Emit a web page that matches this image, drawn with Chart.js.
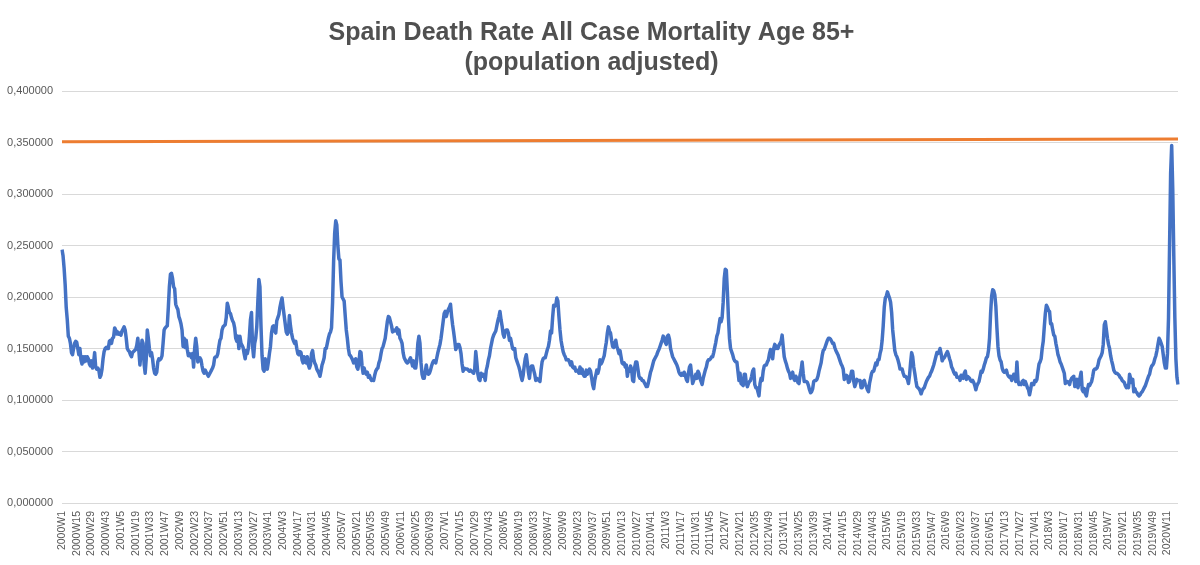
<!DOCTYPE html>
<html>
<head>
<meta charset="utf-8">
<title>Spain Death Rate All Case Mortality Age 85+</title>
<script src="https://cdn.jsdelivr.net/npm/chart.js@4.4.1/dist/chart.umd.min.js"></script>
<style>
  html, body { margin: 0; padding: 0; background: #ffffff; }
  #wrap { width: 1200px; height: 565px; }
</style>
</head>
<body>
<div id="wrap"><canvas id="mortalityChart" width="1200" height="565"></canvas></div>
<script>
/* ==========================================
   DATA  (weekly death rate, age 85+)
========================================== */

const firstYear = 2000;
const labelEvery = 14;

const rate2000 = [.246,.240,.228,.212,.190,.178,.162,.160,.155,.146,.144,.150,.155,.157,.156,.150,.144,.150,.139,.135,.142,.137,.142,.138,.142,.140,.135,.133,.138,.131,.136,.146,.132,.130,.131,.129,.122,.124,.130,.140,.147,.150,.151,.150,.150,.157,.158,.155,.160,.161,.170,.168];
const rate2001 = [.164,.166,.164,.165,.163,.167,.169,.171,.168,.160,.150,.148,.147,.144,.142,.146,.147,.148,.149,.153,.160,.148,.134,.145,.158,.155,.135,.126,.140,.168,.160,.150,.143,.146,.140,.131,.126,.125,.127,.137,.140,.139,.140,.143,.155,.168,.170,.171,.172,.190,.210,.222];
const rate2002 = [.223,.218,.210,.208,.193,.190,.188,.181,.178,.174,.168,.152,.160,.151,.158,.149,.143,.145,.143,.141,.145,.132,.150,.160,.152,.137,.140,.141,.139,.133,.128,.126,.129,.127,.125,.123,.125,.127,.129,.131,.134,.141,.142,.142,.145,.152,.158,.160,.168,.171,.172,.173];
const rate2003 = [.180,.194,.190,.185,.184,.180,.177,.175,.170,.160,.157,.162,.150,.162,.155,.153,.151,.145,.140,.148,.145,.150,.162,.178,.185,.152,.142,.155,.160,.171,.195,.217,.210,.172,.143,.130,.128,.140,.133,.130,.137,.145,.152,.165,.171,.172,.167,.165,.177,.180,.183,.190];
const rate2004 = [.195,.199,.190,.182,.174,.166,.164,.166,.182,.172,.165,.160,.157,.155,.157,.150,.145,.144,.147,.146,.139,.136,.142,.138,.136,.142,.134,.131,.134,.145,.148,.140,.136,.134,.130,.128,.126,.123,.128,.134,.137,.141,.150,.150,.155,.160,.164,.166,.170,.195,.235,.262];
const rate2005 = [.274,.270,.250,.237,.236,.215,.200,.198,.196,.182,.168,.160,.150,.144,.143,.141,.139,.136,.138,.140,.132,.130,.136,.147,.146,.133,.126,.131,.127,.125,.127,.122,.124,.121,.119,.120,.119,.124,.128,.130,.131,.136,.139,.145,.150,.152,.156,.160,.168,.176,.181,.180];
const rate2006 = [.176,.172,.166,.168,.167,.168,.170,.164,.168,.160,.158,.155,.146,.141,.139,.137,.136,.137,.139,.141,.137,.133,.138,.131,.131,.140,.155,.162,.155,.136,.125,.121,.121,.127,.134,.127,.125,.126,.129,.133,.136,.138,.138,.136,.141,.146,.150,.154,.160,.168,.176,.184];
const rate2007 = [.186,.181,.185,.188,.190,.193,.182,.173,.166,.158,.149,.151,.154,.154,.151,.145,.135,.128,.131,.130,.130,.130,.129,.128,.129,.128,.127,.126,.130,.147,.137,.125,.120,.119,.126,.123,.125,.124,.119,.129,.133,.139,.143,.150,.155,.160,.163,.165,.167,.172,.177,.181];
const rate2008 = [.186,.178,.172,.164,.161,.167,.168,.168,.165,.158,.160,.155,.150,.149,.150,.141,.138,.135,.132,.128,.123,.119,.124,.133,.140,.144,.136,.127,.121,.131,.133,.133,.129,.125,.119,.121,.120,.119,.118,.129,.137,.140,.141,.141,.145,.149,.152,.158,.167,.165,.180,.192];
const rate2009 = [.191,.192,.199,.196,.181,.168,.158,.152,.147,.144,.142,.139,.139,.139,.137,.134,.137,.132,.131,.132,.128,.129,.128,.126,.132,.126,.130,.125,.123,.123,.129,.125,.128,.130,.128,.122,.115,.111,.119,.124,.129,.126,.130,.139,.135,.137,.140,.143,.150,.156,.165,.171];
const rate2010 = [.167,.165,.158,.152,.151,.155,.158,.152,.149,.145,.148,.142,.136,.135,.136,.132,.134,.123,.130,.128,.133,.130,.119,.118,.132,.137,.137,.130,.123,.121,.121,.119,.119,.117,.115,.113,.113,.117,.122,.127,.130,.134,.138,.140,.142,.144,.147,.149,.152,.155,.158,.162];
const rate2011 = [.160,.156,.154,.162,.163,.159,.150,.146,.142,.140,.138,.136,.134,.131,.127,.125,.124,.126,.124,.127,.124,.120,.118,.126,.132,.134,.125,.116,.119,.122,.125,.121,.128,.126,.121,.118,.115,.121,.125,.129,.132,.137,.139,.139,.140,.142,.142,.146,.151,.156,.162,.165];
const rate2012 = [.172,.179,.176,.180,.195,.218,.227,.226,.205,.180,.160,.150,.147,.144,.140,.138,.137,.137,.128,.119,.126,.116,.115,.114,.125,.125,.116,.113,.116,.118,.119,.123,.128,.130,.115,.112,.112,.108,.104,.116,.121,.119,.128,.133,.134,.134,.137,.139,.145,.149,.145,.140];
const rate2013 = [.150,.154,.150,.152,.150,.153,.155,.157,.163,.152,.142,.138,.135,.131,.128,.126,.121,.125,.127,.121,.119,.123,.121,.117,.116,.124,.129,.137,.126,.118,.118,.118,.117,.114,.110,.107,.108,.111,.118,.119,.119,.120,.123,.128,.132,.136,.143,.148,.149,.152,.155,.158];
const rate2014 = [.160,.160,.159,.157,.155,.155,.151,.148,.146,.144,.141,.138,.135,.133,.130,.120,.122,.124,.123,.117,.118,.123,.128,.128,.118,.113,.116,.120,.119,.119,.119,.112,.112,.118,.119,.115,.113,.110,.108,.116,.121,.126,.128,.128,.132,.136,.134,.139,.139,.145,.149,.158];
const rate2015 = [.172,.190,.199,.201,.205,.202,.199,.195,.185,.168,.158,.148,.144,.142,.139,.135,.130,.130,.130,.126,.123,.123,.122,.120,.116,.124,.136,.146,.142,.132,.126,.119,.113,.112,.111,.109,.106,.109,.111,.112,.115,.118,.120,.122,.123,.126,.128,.131,.134,.138,.142,.146];
const rate2016 = [.145,.147,.150,.145,.138,.140,.141,.143,.145,.147,.144,.140,.137,.132,.130,.127,.125,.126,.122,.122,.122,.119,.124,.122,.121,.126,.128,.120,.123,.122,.121,.119,.118,.119,.117,.114,.110,.114,.116,.118,.123,.128,.127,.130,.134,.137,.141,.142,.148,.160,.184,.201];
const rate2017 = [.207,.206,.202,.191,.170,.152,.143,.139,.137,.131,.128,.127,.128,.129,.125,.123,.122,.123,.119,.122,.125,.122,.118,.137,.119,.115,.116,.115,.118,.119,.115,.118,.115,.112,.110,.105,.110,.116,.116,.115,.119,.118,.120,.128,.135,.137,.140,.150,.157,.171,.184,.192];
const rate2018 = [.190,.187,.186,.174,.174,.168,.163,.162,.155,.150,.144,.141,.137,.135,.132,.129,.126,.116,.118,.118,.117,.115,.119,.121,.122,.123,.113,.118,.120,.112,.117,.122,.127,.110,.108,.111,.106,.104,.110,.115,.114,.116,.118,.123,.129,.130,.130,.131,.134,.139,.141,.143];
const rate2019 = [.146,.154,.173,.176,.168,.160,.154,.150,.143,.138,.134,.129,.127,.126,.126,.125,.124,.122,.121,.119,.118,.117,.114,.112,.114,.112,.125,.121,.117,.120,.108,.111,.108,.107,.105,.104,.105,.107,.108,.110,.112,.114,.117,.120,.123,.125,.130,.133,.134,.136,.140,.143];
const rate2020 = [.148,.154,.160,.158,.155,.152,.144,.136,.131,.131,.145,.180,.250,.320,.347,.305,.240,.180,.140,.122,.115];

const yTicks = [0, 0.05, 0.10, 0.15, 0.20, 0.25, 0.30, 0.35, 0.40];

// hand-drawn reference line (start / end level)
const refLineStart = 0.3508;
const refLineEnd = 0.3533;

/* ==========================================
   BUILD
========================================== */

const yearly = [rate2000, rate2001, rate2002, rate2003, rate2004, rate2005, rate2006,
    rate2007, rate2008, rate2009, rate2010, rate2011, rate2012, rate2013,
    rate2014, rate2015, rate2016, rate2017, rate2018, rate2019, rate2020];

const weekLabels = [];
const deathRate = [];

yearly.forEach((values, i) => {
    values.forEach((v, w) => {
        weekLabels.push((firstYear + i) + "W" + (w + 1));
        deathRate.push(v);
    });
});

const lastLabel = weekLabels[weekLabels.length - 1];

Chart.defaults.font.family = "'Liberation Sans', Arial, sans-serif";
Chart.defaults.color = "#595959";

new Chart(document.getElementById("mortalityChart"), {

    type: "line",

    data: {

        labels: weekLabels,

        datasets: [{
            label: "Death rate 85+",
            data: deathRate,
            borderColor: "#4472C4",
            borderWidth: 3.5,
            pointRadius: 0,
            tension: 0,
            borderJoinStyle: "round",
            order: 2
        }, {
            label: "Reference",
            data: [
                { x: weekLabels[0], y: refLineStart },
                { x: lastLabel, y: refLineEnd }
            ],
            borderColor: "#ED7D31",
            borderWidth: 3,
            pointRadius: 0,
            order: 1
        }]

    },

    options: {

        responsive: false,
        animation: false,
        events: [],

        layout: {
            padding: { left: 5, right: 22, top: 0, bottom: 0 }
        },

        plugins: {
            legend: { display: false },
            tooltip: { enabled: false },
            title: {
                display: true,
                text: ["Spain Death Rate All Case Mortality Age 85+", "(population adjusted)"],
                color: "#505050",
                font: { size: 25, weight: "bold", lineHeight: 1.2 },
                padding: { top: 18, bottom: 13 }
            }
        },

        scales: {

            x: {
                type: "category",
                grid: { display: false, drawTicks: false },
                border: { display: false },
                ticks: {
                    autoSkip: false,
                    minRotation: 90,
                    maxRotation: 90,
                    padding: 8,
                    font: { size: 10.5 },
                    color: "#595959",
                    callback: function (value, index) {
                        return index % labelEvery === 0 ? this.getLabelForValue(value) : null;
                    }
                },
                afterFit: (scale) => { scale.height = 62; }
            },

            y: {
                min: 0,
                max: 0.4,
                afterBuildTicks: (scale) => {
                    scale.ticks = yTicks.map(v => ({ value: v }));
                },
                grid: { color: "#d9d9d9", lineWidth: 1, drawTicks: false },
                border: { display: false },
                ticks: {
                    padding: 9,
                    font: { size: 11 },
                    color: "#595959",
                    callback: (v) => Number(v).toFixed(6).replace(".", ",")
                },
                afterFit: (scale) => { scale.width = 57; }
            }

        }

    }

});
</script>
</body>
</html>
